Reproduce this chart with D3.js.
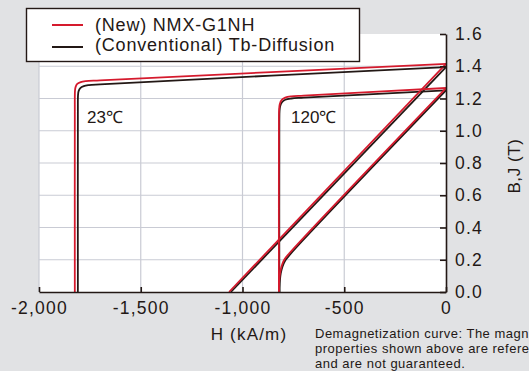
<!DOCTYPE html>
<html>
<head>
<meta charset="utf-8">
<script src="https://cdn.jsdelivr.net/npm/d3@7"></script>
<style>
  html, body { margin: 0; padding: 0; background: #e1e2e4; }
  svg { display: block; font-family: "Liberation Sans", Arial, sans-serif; }
  .axis path, .axis line { stroke: #231815; }
  .axis text { fill: #231815; font-size: 17.5px; letter-spacing: 1.2px; }
</style>
</head>
<body>
<svg id="chart" width="529" height="371"></svg>
<script>
// tick values
const xTicks = [-2000, -1500, -1000, -500, 0];
const yTicks = [0, 0.2, 0.4, 0.6, 0.8, 1.0, 1.2, 1.4, 1.6];

// [H (kA/m), B or J (T)]
const newJ23 = [[0, 1.415], [-1700, 1.313], [-1770, 1.308], [-1795, 1.302], [-1812, 1.29], [-1820, 1.272], [-1823, 1.25], [-1824, 1.1], [-1824, 0]];
const convJ23 = [[0, 1.395], [-1700, 1.288], [-1755, 1.283], [-1780, 1.277], [-1797, 1.265], [-1805, 1.247], [-1808, 1.225], [-1809, 1.1], [-1809, 0]];
const newB23 = [[0, 1.415], [-1066, 0]];
const convB23 = [[0, 1.395], [-1057, 0]];

const newJ120 = [[0, 1.265], [-700, 1.218], [-760, 1.213], [-790, 1.205], [-808, 1.19], [-817, 1.165], [-820, 1.13], [-821, 1.0], [-821, 0]];
const convJ120 = [[0, 1.25], [-700, 1.205], [-760, 1.2], [-790, 1.192], [-806, 1.177], [-815, 1.152], [-818, 1.12], [-819, 1.0], [-819, 0]];
const newB120 = [[0, 1.265], [-770, 0.24], [-795, 0.2], [-808, 0.16], [-815, 0.12], [-819, 0.08], [-821, 0.03], [-821, 0]];
const convB120 = [[0, 1.25], [-765, 0.235], [-790, 0.195], [-804, 0.155], [-812, 0.115], [-816, 0.075], [-818, 0.03], [-818, 0]];

const legendNames = ["(New) NMX-G1NH", "(Conventional) Tb-Diffusion"];
const colors = ["#d51a2d", "#231815"];

const svg = d3.select("#chart");

const x = d3.scaleLinear().domain([-2000, 0]).range([39, 446]);
const y = d3.scaleLinear().domain([0, 1.6]).range([292, 34]);

// white plot area
svg.append("rect")
    .attr("x", x(-2000)).attr("y", y(1.6))
    .attr("width", x(0) - x(-2000)).attr("height", y(0) - y(1.6))
    .attr("fill", "#ffffff");

// grid
svg.append("g").selectAll("line")
    .data(xTicks.slice(0, -1))
    .join("line")
    .attr("x1", d => x(d)).attr("x2", d => x(d))
    .attr("y1", y(1.6)).attr("y2", y(0))
    .attr("stroke", "#c9cbd4").attr("stroke-width", 1.2);

svg.append("g").selectAll("line")
    .data(yTicks.slice(1, -1))
    .join("line")
    .attr("x1", x(-2000)).attr("x2", x(0))
    .attr("y1", d => y(d)).attr("y2", d => y(d))
    .attr("stroke", "#c9cbd4").attr("stroke-width", 1.2);

// curves
const line = d3.line()
    .x(d => x(d[0]))
    .y(d => y(d[1]))
    .curve(d3.curveCatmullRom.alpha(0.5));

const curves = [
    { data: convJ23, c: 1 }, { data: convB23, c: 1 },
    { data: convJ120, c: 1 }, { data: convB120, c: 1 },
    { data: newJ23, c: 0 }, { data: newB23, c: 0 },
    { data: newJ120, c: 0 }, { data: newB120, c: 0 }
];

svg.append("g").selectAll("path")
    .data(curves)
    .join("path")
    .attr("d", d => line(d.data))
    .attr("fill", "none")
    .attr("stroke", d => colors[d.c])
    .attr("stroke-width", 1.8)
    .attr("stroke-linejoin", "round");

// axes
const fmt = d3.formatLocale({ decimal: ".", thousands: ",", grouping: [3], currency: ["", ""], minus: "-" }).format(",");

svg.append("g").attr("class", "axis")
    .attr("transform", `translate(0,${y(0)})`)
    .call(d3.axisBottom(x).tickValues(xTicks).tickSize(-5).tickPadding(10).tickSizeOuter(0).tickFormat(fmt))
    .call(g => g.selectAll("path, line").attr("stroke-width", 1.6));

svg.append("g").attr("class", "axis")
    .attr("transform", `translate(${x(0)},0)`)
    .call(d3.axisRight(y).tickValues(yTicks).tickSize(-6).tickPadding(9).tickSizeOuter(0).tickFormat(d3.format(".1f")))
    .call(g => g.selectAll("path, line").attr("stroke-width", 1.6));

// axis titles
svg.append("text")
    .attr("x", 249).attr("y", 340)
    .attr("text-anchor", "middle")
    .attr("fill", "#231815")
    .style("font-size", "17px").style("letter-spacing", "1.2px")
    .text("H (kA/m)");

svg.append("text")
    .attr("transform", `translate(${520},${166}) rotate(-90)`)
    .attr("text-anchor", "middle")
    .attr("fill", "#231815")
    .style("font-size", "17px").style("letter-spacing", "0.6px")
    .text("B,J (T)");

// temperature labels
svg.append("text").attr("x", 87).attr("y", 123)
    .attr("fill", "#231815").style("font-size", "17px")
    .text("23℃");
svg.append("text").attr("x", 291).attr("y", 123)
    .attr("fill", "#231815").style("font-size", "17px")
    .text("120℃");

// legend
const legend = svg.append("g");
legend.append("rect")
    .attr("x", 26.5).attr("y", 8.5).attr("width", 333).attr("height", 53)
    .attr("fill", "#ffffff").attr("stroke", "#231815").attr("stroke-width", 1.4);

const items = legend.selectAll(".item")
    .data(legendNames)
    .join("g")
    .attr("transform", (d, i) => `translate(0,${25 + i * 22})`);

items.append("line")
    .attr("x1", 52).attr("x2", 83)
    .attr("stroke", (d, i) => colors[i]).attr("stroke-width", 2);

items.append("text")
    .attr("x", 95).attr("y", (d, i) => i === 0 ? 6 : 4)
    .attr("fill", "#231815")
    .style("font-size", "18px").style("letter-spacing", "0.8px")
    .text(d => d);

// footnote
const note = ["Demagnetization curve: The magnetic", "properties shown above are reference values", "and are not guaranteed."];
svg.append("g").selectAll("text")
    .data(note)
    .join("text")
    .attr("x", 315).attr("y", (d, i) => 338 + i * 15)
    .attr("fill", "#231815")
    .style("font-size", "13px").style("letter-spacing", "0.5px")
    .text(d => d);
</script>
</body>
</html>
